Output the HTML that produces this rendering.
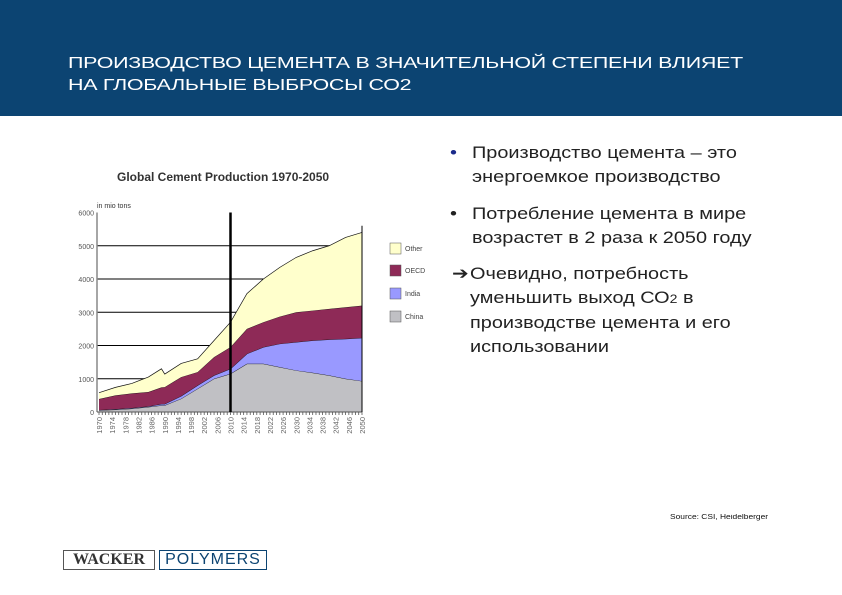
<!DOCTYPE html>
<html><head><meta charset="utf-8"><style>
body{margin:0;width:842px;height:595px;background:#fff;position:relative;overflow:hidden;font-family:"Liberation Sans",sans-serif}
.hdr{position:absolute;left:0;top:0;width:842px;height:116px;background:#0c4472}
.ttl{position:absolute;left:68px;top:53px;color:#fff;font-size:16px;line-height:22px;letter-spacing:-0.2px;transform:scaleX(1.34);transform-origin:0 0;white-space:nowrap}
.t{position:absolute;color:#222;font-size:17px;line-height:24px;white-space:nowrap;transform:scaleX(1.17);transform-origin:0 0}
</style></head><body>
<div class="hdr"></div>
<div class="ttl">ПРОИЗВОДСТВО ЦЕМЕНТА В ЗНАЧИТЕЛЬНОЙ СТЕПЕНИ ВЛИЯЕТ<br>НА ГЛОБАЛЬНЫЕ ВЫБРОСЫ СО2</div>
<div class="t" style="left:450px;top:141px"><span style="color:#1a2a8a">•</span></div>
<div class="t" style="left:472px;top:141px">Производство цемента – это<br>энергоемкое производство</div>
<div class="t" style="left:450px;top:202px">•</div>
<div class="t" style="left:472px;top:202px">Потребление цемента в мире<br>возрастет в 2 раза к 2050 году</div>
<div class="t" style="left:452px;top:262px">➔</div>
<div class="t" style="left:470px;top:262px">Очевидно, потребность<br>уменьшить выход СО<span style="font-size:12px">2</span> в<br>производстве цемента и его<br>использовании</div>
<div style="position:absolute;left:670px;top:514px;font-size:7px;color:#111;transform:scaleX(1.2);transform-origin:0 0;white-space:nowrap">Source: CSI, Heidelberger</div>
<div style="position:absolute;left:63px;top:550px;width:90px;height:18px;border:1px solid #555;font-family:'Liberation Serif',serif;font-weight:bold;font-size:16px;color:#333;text-align:center;line-height:18px">WACKER</div>
<div style="position:absolute;left:159px;top:550px;width:106px;height:18px;border:1px solid #0c4472;font-size:16px;color:#0c4472;text-align:center;line-height:18px;letter-spacing:1px">POLYMERS</div>
<svg id="chart" width="842" height="595" style="position:absolute;left:0;top:0">
<text x="117" y="181" font-size="12" font-weight="bold" fill="#333" font-family="Liberation Sans">Global Cement Production 1970-2050</text>
<text x="97" y="208" font-size="7" fill="#333" font-family="Liberation Sans">in mio tons</text>
</svg>
<script>
const years=[1970,1975,1980,1985,1989,1990,1995,2000,2005,2010,2015,2020,2025,2030,2035,2040,2045,2050];
const china=[50,70,100,150,200,200,400,700,1000,1150,1450,1450,1350,1250,1180,1100,1000,930];
const india=[10,15,20,20,40,40,80,100,100,150,300,500,700,850,970,1080,1200,1300];
const oecd=[330,415,440,430,500,510,570,400,550,650,750,750,820,900,900,920,950,970];
const other=[190,240,300,450,560,390,410,400,500,750,1060,1300,1480,1650,1800,1900,2100,2200];
const yTicks=[0,1000,2000,3000,4000,5000,6000];
const xTickYears=[1970,1974,1978,1982,1986,1990,1994,1998,2002,2006,2010,2014,2018,2022,2026,2030,2034,2038,2042,2046,2050];
const seriesNames=["China","India","OECD","Other"];
const colors=["#c0c0c4","#9999ff","#8e2a57","#ffffcc"];
const NS="http://www.w3.org/2000/svg",svg=document.getElementById('chart');
const X=y=>99+(y-1970)*(263/80), Y=v=>412-v*(199.5/6000);
function mk(t,a){const e=document.createElementNS(NS,t);for(const k in a)e.setAttribute(k,a[k]);svg.appendChild(e);return e;}
yTicks.forEach(v=>{
 if(v>0&&v<6000){const l=mk('line',{x1:97,x2:362,y1:Y(v),y2:Y(v),stroke:'#000','stroke-width':1});
 
 }
 const t=mk('text',{x:94,y:Y(v)+3,'font-size':7,fill:'#555','text-anchor':'end','font-family':'Liberation Sans'});t.textContent=v;
 
 
});
const stacks=[china,india,oecd,other];let base=years.map(()=>0);
stacks.forEach((s,i)=>{
 const top=base.map((b,j)=>b+s[j]);
 let d='M'+years.map((y,j)=>X(y)+','+Y(top[j])).join(' L');
 for(let j=years.length-1;j>=0;j--)d+=' L'+X(years[j])+','+Y(base[j]);
 const p=mk('path',{d:d+'Z',fill:colors[i]});
 
 
 const ln=mk('polyline',{points:years.map((y,j)=>X(y)+','+Y(top[j])).join(' '),fill:'none',stroke:'#111','stroke-width':0.7});
 
 
 base=top;
});
const ax=mk('line',{x1:97,x2:97,y1:Y(6000),y2:412,stroke:'#888','stroke-width':1.5});


const ax2=mk('line',{x1:97,x2:362,y1:412,y2:412,stroke:'#555','stroke-width':1});


const ra=mk('line',{x1:362,x2:362,y1:Y(5600),y2:412,stroke:'#000','stroke-width':1});


const vl=mk('line',{x1:X(2010),x2:X(2010),y1:Y(6000),y2:412,stroke:'#000','stroke-width':2.5});


for(let y=1970;y<=2050;y++){const tk=mk('line',{x1:X(y),x2:X(y),y1:412,y2:415,stroke:'#555','stroke-width':0.8});
 
 }
xTickYears.forEach(y=>{const t=mk('text',{x:0,y:0,'font-size':7.5,fill:'#666','text-anchor':'end','font-family':'Liberation Sans',transform:`translate(${X(y)+3},417) rotate(-90)`});t.textContent=y;
 
 });
const legY=[248,270,293,316],legNames=["Other","OECD","India","China"],legC=["#ffffcc","#8e2a57","#9999ff","#c0c0c4"];
legNames.forEach((n,i)=>{const r=mk('rect',{x:390,y:legY[i]-5,width:11,height:11,fill:legC[i],stroke:'#555','stroke-width':0.5});
 
 
 const t=mk('text',{x:405,y:legY[i]+3,'font-size':7,fill:'#444','font-family':'Liberation Sans'});t.textContent=n;
 
 });
</script>
</body></html>
